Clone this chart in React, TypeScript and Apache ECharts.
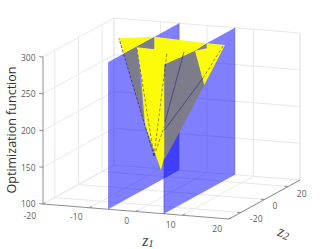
import React, { useEffect, useRef } from "react";
import * as echarts from "echarts";

// Axis ranges and ticks
const z1Range = [-20, 20];
const z2Range = [-30, 30];
const fRange = [100, 300];
const z1Ticks = [-20, -10, 0, 10, 20];
const z2Ticks = [-20, 0, 20];
const fTicks = [100, 150, 200, 250, 300];
const fLabel = "Optimization function";

// Constraint planes
const planeZ1 = [-6, 6];

// Surface vertices [z1, f] on the sheet z2 = surfaceZ2
const surfaceZ2 = 15;
const grayFacets: number[][][] = [
  [[-14.03, 268.3], [-7.52, 294.2], [-7.52, 277.1], [-11.3, 277.8], [-9.73, 177.0]],
  [[-5.37, 257.6], [1.24, 279.6], [3.24, 234.0], [-2.42, 163.0], [-5.37, 127.5]],
  [[1.24, 279.6], [3.75, 291.0], [3.75, 284.2]],
];
const yellowFacets: number[][][] = [
  [[-15.11, 288.1], [-7.52, 294.2], [-14.03, 268.3]],
  [[-11.3, 277.8], [-7.52, 277.1], [-7.52, 294.2], [3.75, 291.0], [1.24, 279.6], [-5.37, 257.6], [-5.37, 131.6], [-6.08, 113.6], [-9.52, 173.0], [-10.38, 240.6]],
  [[1.24, 279.6], [3.75, 284.2], [3.75, 291.0], [7.69, 290.7], [3.24, 234.0]],
];
const yellowEdges: number[][][] = [
  [[-7.58, 131.9], [-11.3, 277.8]],
  [[-7.58, 131.9], [-4.78, 274.8]],
  [[-7.58, 131.9], [-5.37, 173]],
  [[7.26, 289.1], [2.96, 243.3]],
];
const wedgeEdge: number[][][] = [[[-7.58, 131.9], [-15.11, 288.1]]];
const grayEdges: number[][][] = [
  [[-1.13, 276.6], [-5.22, 179.3]],
  [[2.96, 243.3], [-5.32, 168.4]],
];

// Orthographic view of the box, in page pixels
const project = (z1: number, z2: number, f: number): number[] => [
  43 + 4.65 * (z1 - z1Range[0]) + (71 / 60) * (z2 - z2Range[0]),
  204 + 0.375 * (z1 - z1Range[0]) - 0.65 * (z2 - z2Range[0]) - 0.735 * (f - fRange[0]),
];

type P3 = number[];
const seg = (a: P3, b: P3): P3[] => [a, b];
const [z1a, z1b] = z1Range;
const [z2a, z2b] = z2Range;
const [fa, fb] = fRange;

const gridLines: P3[][] = [
  ...fTicks.map((f) => [[z1a, z2a, f], [z1a, z2b, f], [z1b, z2b, f]]),
  ...z2Ticks.map((t) => seg([z1a, t, fa], [z1a, t, fb])),
  ...z1Ticks.map((t) => seg([t, z2b, fa], [t, z2b, fb])),
  ...z2Ticks.map((t) => seg([z1a, t, fa], [z1b, t, fa])),
  ...z1Ticks.map((t) => seg([t, z2a, fa], [t, z2b, fa])),
  seg([z1a, z2b, fa], [z1a, z2b, fb]),
  seg([z1b, z2b, fa], [z1b, z2b, fb]),
];
const axisLines: P3[][] = [
  seg([z1a, z2a, fa], [z1a, z2a, fb]),
  seg([z1a, z2a, fa], [z1b, z2a, fa]),
  seg([z1b, z2a, fa], [z1b, z2b, fa]),
  ...fTicks.map((f) => seg([z1a, z2a, f], [z1a - 0.8, z2a, f])),
  ...z1Ticks.map((t) => seg([t, z2a, fa], [t, z2a + 2, fa])),
  ...z2Ticks.map((t) => seg([z1b, t, fa], [z1b - 0.8, t, fa])),
];
const planes: P3[][] = planeZ1.map((z) => [
  [z, z2a, fa], [z, z2b, fa], [z, z2b, fb], [z, z2a, fb],
]);
const planeEdges: P3[][] = [
  seg([planeZ1[0], z2b, fa], [planeZ1[0], z2b, fb]),
  seg([planeZ1[1], z2a, fa], [planeZ1[1], z2a, fb]),
  seg([planeZ1[1], z2b, fa], [planeZ1[1], z2b, fb]),
];
const on = (list: number[][][]): P3[][] =>
  list.map((poly) => poly.map(([z1, f]) => [z1, surfaceZ2, f]));

function App() {
  const ref = useRef<HTMLDivElement>(null);
  useEffect(() => {
    document.body.style.margin = "0";
    const chart = echarts.init(ref.current!, undefined, { renderer: "svg" });
    const pts = (api: any, list: P3[]) =>
      list.map(([a, b, c]) => api.coord(project(a, b, c)));
    const shapes = (list: P3[][], type: string, style: any) => ({
      type: "custom",
      coordinateSystem: "cartesian2d",
      silent: true,
      clip: false,
      data: list.map((_, i) => [i]),
      encode: { x: 0, y: 0 },
      renderItem: (p: any, api: any) => ({
        type,
        shape: { points: pts(api, list[p.dataIndex]) },
        style,
      }),
    });
    const tickFont = "8.5px 'Open Sans'";
    type Lab = { text: string; at: P3; dx: number; dy: number; align: string };
    const labels: Lab[] = [
      ...fTicks.map((f) => ({ text: String(f), at: [z1a, z2a, f], dx: -7.5, dy: f === fa ? -1 : 0, align: "right" })),
      ...z1Ticks.map((t) => ({ text: String(t), at: [t, z2a, fa], dx: -7, dy: t === z1a ? 11 : 9, align: "right" })),
      ...z2Ticks.map((t, i) => ({ text: String(t), at: [z1b, t, fa], dx: [15.5, 10.5, 13.5][i], dy: [5.5, 5.5, 6.5][i], align: "center" })),
    ];
    const textSeries = {
      type: "custom",
      coordinateSystem: "cartesian2d",
      silent: true,
      clip: false,
      data: labels.map((_, i) => [i]),
      encode: { x: 0, y: 0 },
      renderItem: (p: any, api: any) => {
        const l = labels[p.dataIndex];
        const [x, y] = pts(api, [l.at])[0];
        return {
          type: "text",
          x: x + l.dx,
          y: y + l.dy,
          style: { text: l.text, font: tickFont, fill: "#5c5c5c", align: l.align, verticalAlign: "middle" },
        };
      },
    };
    const subRich = {
      a: { font: "italic 16px 'Liberation Serif'", fill: "#444" },
      b: { font: "italic 11px 'Liberation Serif'", fill: "#444", padding: [6, 0, 0, 0] },
    };
    chart.setOption({
      animation: false,
      grid: { left: 0, top: 0, right: 0, bottom: 0 },
      xAxis: { type: "value", min: 0, max: 332, show: false },
      yAxis: { type: "value", min: 0, max: 249, inverse: true, show: false },
      series: [
        shapes(gridLines, "polyline", { stroke: "#e8e8e8", lineWidth: 1, fill: "none" }),
        shapes(axisLines, "polyline", { stroke: "#808080", lineWidth: 0.9, fill: "none" }),
        shapes(planes, "polygon", { fill: "rgba(0,0,255,0.5)", stroke: "none" }),
        shapes(planeEdges, "polyline", { stroke: "rgba(70,70,110,0.55)", lineWidth: 0.8, fill: "none" }),
        shapes(on(grayFacets), "polygon", { fill: "#7c7c8a", stroke: "none" }),
        shapes(on(yellowFacets), "polygon", { fill: "#fcfc0a", stroke: "none" }),
        shapes(on(yellowEdges), "polyline", { stroke: "#46463c", lineWidth: 0.6, lineDash: [3, 2], fill: "none" }),
        shapes(on(wedgeEdge), "polyline", { stroke: "#26264e", lineWidth: 0.7, lineDash: [3, 1.5], fill: "none" }),
        shapes(on(grayEdges), "polyline", { stroke: "#34347e", lineWidth: 0.7, fill: "none" }),
        textSeries,
      ],
      graphic: [
        { type: "text", x: 11, y: 130, rotation: Math.PI / 2, style: { text: fLabel, font: "12.5px 'Open Sans'", fill: "#333", align: "center", verticalAlign: "middle" } },
        { type: "text", x: 148, y: 240, style: { text: "{a|z}{b|1}", align: "center", verticalAlign: "middle", rich: subRich } },
        { type: "text", x: 284, y: 232, rotation: -0.3, style: { text: "{a|z}{b|2}", align: "center", verticalAlign: "middle", rich: subRich } },
      ],
    });
    return () => chart.dispose();
  }, []);
  return <div ref={ref} style={{ width: 332, height: 249 }} />;
}

export default App;
